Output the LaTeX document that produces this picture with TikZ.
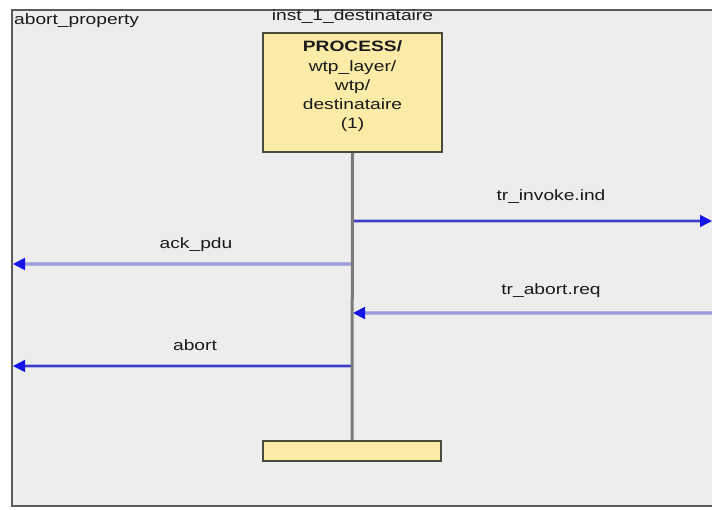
\documentclass[tikz,border=0pt]{standalone}
\usepackage{fontspec}
\setmainfont[FakeStretch=1.28]{Liberation Sans}
\usetikzlibrary{arrows.meta}
\definecolor{bgin}{HTML}{EDEDED}
\definecolor{framecol}{HTML}{5A5A5A}
\definecolor{boxfill}{HTML}{FAEBA6}
\definecolor{boxline}{HTML}{4A4A3A}
\definecolor{lifecol}{HTML}{7A7A7A}
\definecolor{msgblue}{HTML}{3A3ACC}
\definecolor{msghalo}{HTML}{B4B4E0}
\definecolor{tipblue}{HTML}{1515E6}
\definecolor{txt}{HTML}{1A1A1A}
\tikzset{
  lbl/.style={font=\fontsize{15}{18}\selectfont, text=txt, inner sep=0pt},
  procbox/.style={draw=boxline, line width=1.6pt, fill=boxfill, inner sep=0pt},
  halo/.style={draw=msghalo, line width=4pt},
  msg/.style={draw=msgblue, line width=1.4pt, -{Triangle[length=12pt,width=12pt,color=tipblue]}},
  lifeline/.style={draw=lifecol, line width=3pt}
}
\begin{document}
\begin{tikzpicture}[x=1pt,y=-1pt]
\useasboundingbox (0,0) rectangle (712,509);
\fill[white] (0,0) rectangle (712,509);
\fill[bgin] (12,10) rectangle (716,506);
\draw[framecol, line width=2pt] (716,10) -- (12,10) -- (12,506) -- (716,506);

\node[lbl, anchor=west] (prop) at (14,21) {abort\_property};
\node[lbl] (inst) at (352.5,17) {inst\_1\_destinataire};

\node[procbox, minimum width=179pt, minimum height=119pt] (proc) at (352.5,92.5) {};
\node[lbl, align=center, font=\fontsize{15}{19.3}\selectfont] (proctext) at (352.5,86.5)
  {\textbf{PROCESS/}\\wtp\_layer/\\wtp/\\destinataire\\(1)};
\node[procbox, minimum width=178pt, minimum height=20pt] (bot) at (352,451) {};

\coordinate (l1) at (352,221);
\coordinate (r1) at (712,221);
\coordinate (l2) at (352,264);
\coordinate (e2) at (13,264);
\coordinate (r3) at (712,313);
\coordinate (l3) at (353,313);
\coordinate (l4) at (352,366);
\coordinate (e4) at (13,366);

\draw[halo] (l1) -- ([xshift=-8pt]r1);
\draw[msg] (l1) -- (r1);
\draw[halo] (l2) -- ([xshift=8pt]e2);
\draw[msg, draw=msghalo!80!msgblue, line width=2pt] (l2) -- (e2);
\draw[halo] (r3) -- ([xshift=8pt]l3);
\draw[msg, draw=msghalo!80!msgblue, line width=2pt] (r3) -- (l3);
\draw[halo] (l4) -- ([xshift=8pt]e4);
\draw[msg] (l4) -- (e4);

\draw[lifeline] (proc.south) -- (bot.north);

\node[lbl] (m1) at (551,197) {tr\_invoke.ind};
\node[lbl] (m2) at (196,245) {ack\_pdu};
\node[lbl] (m3) at (551,291) {tr\_abort.req};
\node[lbl] (m4) at (195,345) {abort};
\end{tikzpicture}
\end{document}
